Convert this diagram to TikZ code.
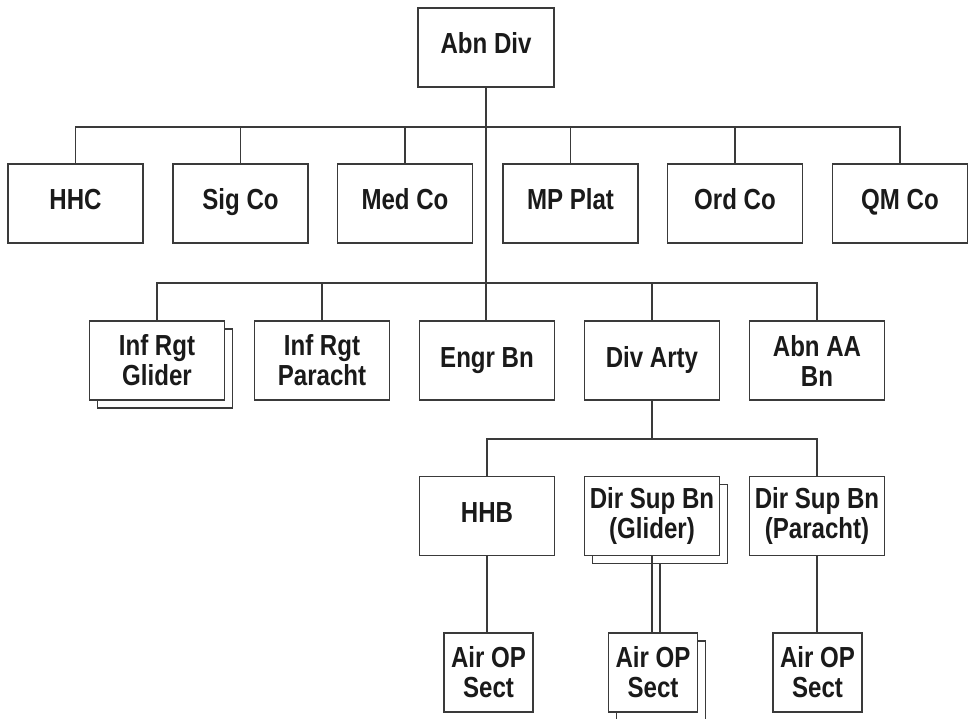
\documentclass[tikz,border=0pt]{standalone}
\usepackage{fontspec}
\setmainfont{Liberation Sans}[FakeStretch=0.83]
\usetikzlibrary{calc}
\definecolor{linec}{HTML}{3A3A3A}
\definecolor{textc}{HTML}{1A1A1A}
\tikzset{
  box/.style={draw=linec, line width=1.5pt, fill=white, inner sep=0pt, align=center,
    minimum width=135pt, minimum height=79pt, text=textc,
    font=\fontsize{29}{30}\selectfont\bfseries},
  smallbox/.style={box, minimum width=89pt},
  oneline/.style={text height=21pt, text depth=8pt},
  conn/.style={draw=linec, line width=1.5pt}
}
\begin{document}
\begin{tikzpicture}[x=1pt,y=-1pt]
\useasboundingbox (0,0) rectangle (973,719);
% top
\node[box, oneline, minimum width=136pt] (abn) at (486,47.5) {Abn Div};
% row 1
\node[box, oneline] (hhc) at (75.5,203.5) {HHC};
\node[box, oneline] (sig) at (240.5,203.5) {Sig Co};
\node[box, oneline] (med) at (405,203.5) {Med Co};
\node[box, oneline] (mp)  at (570.5,203.5) {MP Plat};
\node[box, oneline] (ord) at (735,203.5) {Ord Co};
\node[box, oneline] (qm)  at (900,203.5) {QM Co};
% row 2
\node[box] (infgS) at (165,368.5) {};
\node[box] (infg) at (157,360.5) {Inf Rgt\\Glider};
\node[box] (infp) at (322,360.5) {Inf Rgt\\Paracht};
\node[box, oneline] (engr) at (487,360.5) {Engr Bn};
\node[box, oneline] (arty) at (652,360.5) {Div Arty};
\node[box] (aa)   at (817,360.5) {Abn AA\\Bn};
% row 3
\node[box, oneline] (hhb) at (487,516) {HHB};
\node[box] (dsgS) at (660,524) {};
\node[box] (dsg) at (652,516) {Dir Sup Bn\\(Glider)};
\node[box] (dsp) at (817,516) {Dir Sup Bn\\(Paracht)};
% row 4
\node[smallbox] (air1) at (488.5,672.5) {Air OP\\Sect};
\node[smallbox] (air2S) at (661,680.5) {};
\node[smallbox] (air2) at (653,672.5) {Air OP\\Sect};
\node[smallbox] (air3) at (817.5,672.5) {Air OP\\Sect};
% buses
\coordinate (bus1) at (487,127);
\coordinate (bus2) at (487,283);
\coordinate (bus3) at (487,439);
% trunk
\draw[conn] (abn.south) -- (abn.south |- engr.north);
% row 1 connectors
\draw[conn] (hhc.north) -- (hhc.north |- bus1) -- (qm.north |- bus1) -- (qm.north);
\draw[conn] (sig.north) -- (sig.north |- bus1);
\draw[conn] (med.north) -- (med.north |- bus1);
\draw[conn] (mp.north) -- (mp.north |- bus1);
\draw[conn] (ord.north) -- (ord.north |- bus1);
% row 2 connectors
\draw[conn] (infg.north) -- (infg.north |- bus2) -- (aa.north |- bus2) -- (aa.north);
\draw[conn] (infp.north) -- (infp.north |- bus2);
\draw[conn] (arty.north) -- (arty.north |- bus2);
% row 3 connectors
\draw[conn] (arty.south) -- (arty.south |- bus3);
\draw[conn] (hhb.north) -- (hhb.north |- bus3) -- (dsp.north |- bus3) -- (dsp.north);
% row 4 connectors
\draw[conn] (hhb.south) -- (hhb.south |- air1.north);
\draw[conn] (dsg.south) -- (dsg.south |- air2.north);
\draw[conn] (dsgS.south) -- (dsgS.south |- air2.north);
\draw[conn] (dsp.south) -- (dsp.south |- air3.north);
\end{tikzpicture}
\end{document}
